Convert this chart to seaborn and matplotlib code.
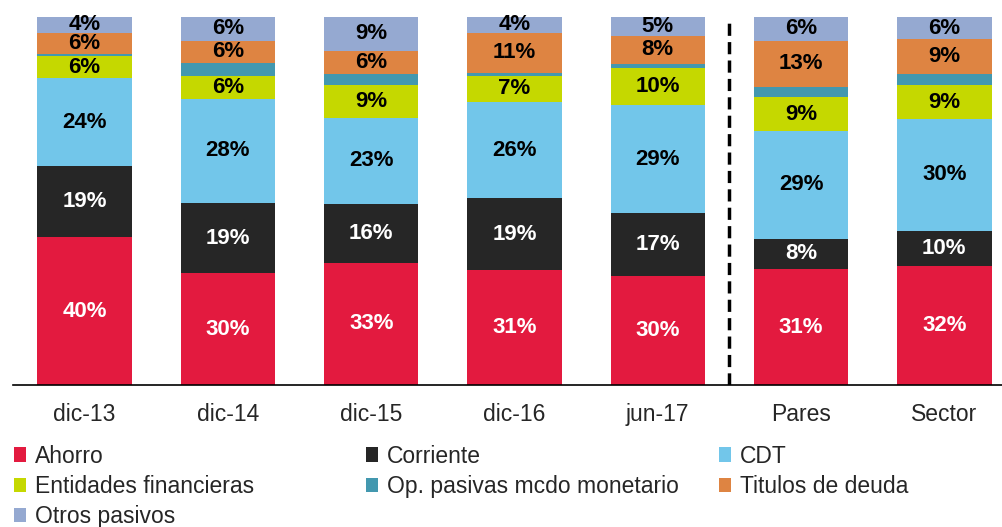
import matplotlib
matplotlib.use("Agg")
import matplotlib.pyplot as plt
import numpy as np
import pandas as pd
import seaborn as sns
from matplotlib.patches import Patch

categorias = ["dic-13", "dic-14", "dic-15", "dic-16", "jun-17", "Pares", "Sector"]
series = ["Ahorro", "Corriente", "CDT", "Entidades financieras",
          "Op. pasivas mcdo monetario", "Titulos de deuda", "Otros pasivos"]

ahorro = [40.2, 30.4, 33.2, 31.3, 29.6, 31.4, 32.3]
corriente = [19.3, 19.0, 16.0, 19.4, 17.1, 8.4, 9.6]
cdt = [23.8, 28.4, 23.4, 26.2, 29.4, 29.2, 30.4]
entidades = [6.2, 6.3, 9.0, 7.1, 10.0, 9.2, 9.2]
op_pasivas = [0.5, 3.3, 3.0, 0.9, 1.2, 2.7, 3.1]
titulos = [5.7, 6.2, 6.2, 10.8, 7.6, 12.7, 9.3]
otros = [4.3, 6.4, 9.2, 4.3, 5.1, 6.4, 6.1]

colores = ["#E31A3F", "#262626", "#72C6EA", "#C5D800", "#4398AF", "#DE8442", "#95A9D1"]
color_texto = ["white", "white", "black", "black", None, "black", "black"]

valores = [ahorro, corriente, cdt, entidades, op_pasivas, titulos, otros]
df = pd.DataFrame(dict(zip(series, valores)), index=categorias)
acum = df.cumsum(axis=1)

sns.set_style("white")
plt.rcParams["font.family"] = ["Liberation Sans", "DejaVu Sans"]

fig = plt.figure(figsize=(10.03, 5.27), dpi=100)
ax = fig.add_axes([13 / 1003, 142 / 527, 1.0, 368 / 527])

# barras apiladas: se dibuja el acumulado de arriba hacia abajo
for s, c in zip(series[::-1], colores[::-1]):
    sns.barplot(x=categorias, y=acum[s].values, color=c, width=0.66,
                saturation=1, ax=ax, edgecolor="none")

for j, s in enumerate(series):
    if color_texto[j] is None:
        continue
    for i, cat in enumerate(categorias):
        v = df.loc[cat, s]
        ax.text(i, acum.loc[cat, s] - v / 2, f"{v:.0f}%", ha="center", va="center",
                fontsize=16, fontweight="bold", color=color_texto[j])

ax.axvline(4.5, color="black", lw=2.5, ls=(0, (3.5, 1.8)))

ax.set_ylim(0, 100)
ax.set_xlim(-0.5, 6.5)
ax.set_yticks([])
ax.set_ylabel("")
sns.despine(ax=ax, left=True)
ax.spines["bottom"].set_color("black")
ax.spines["bottom"].set_linewidth(1.2)
ax.set_xticks(np.arange(-0.5, 7, 1), minor=True)
ax.tick_params(axis="x", which="major", length=0, labelsize=16.5, pad=13)
ax.tick_params(axis="x", which="minor", length=8, width=1, color="#555555", direction="out")

# leyenda: tres columnas colocadas a mano
columnas = [[0, 3, 6], [1, 4], [2, 5]]
x_col = [9 / 1003, 361 / 1003, 714 / 1003]
for idx, x0 in zip(columnas, x_col):
    handles = [Patch(facecolor=colores[k], edgecolor="none") for k in idx]
    labels = [series[k] for k in idx]
    fig.legend(handles, labels, loc="upper left", bbox_to_anchor=(x0, 0.165),
               frameon=False, fontsize=16.5, handlelength=0.55, handleheight=0.6,
               handletextpad=0.4, labelspacing=0.32, borderaxespad=0, borderpad=0.2)

fig.savefig("out.png", dpi=100)
